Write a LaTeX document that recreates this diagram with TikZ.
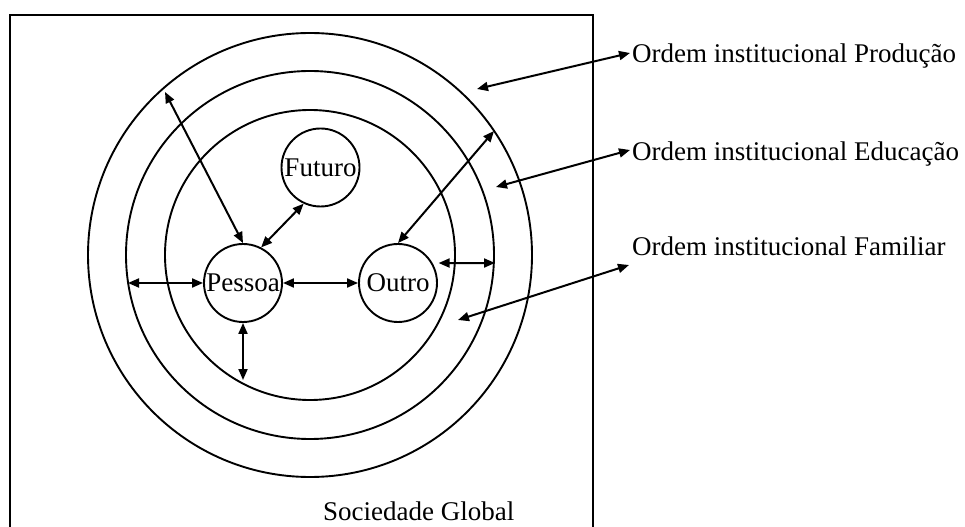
\documentclass[tikz,border=0pt]{standalone}
\usepackage{fontspec}
\setmainfont{Liberation Serif}
\usetikzlibrary{arrows.meta}
\begin{document}
\begin{tikzpicture}[x=1bp,y=-1bp,
  ring/.style={draw, line width=1.9bp},
  circnode/.style={circle, draw, line width=1.9bp, minimum size=78bp, inner sep=0pt},
  dbl/.style={{Triangle[length=11bp,width=9bp]}-{Triangle[length=11bp,width=9bp]}, line width=2bp},
  lbl/.style={anchor=base west, inner sep=0pt},
  font=\fontsize{27bp}{32bp}\selectfont]
\useasboundingbox (0,0) rectangle (965,527);
% outer box (Sociedade Global)
\draw[line width=1.9bp] (10,527) -- (10,15) -- (593,15) -- (593,527);
% concentric rings
\coordinate (C) at (310,255);
\draw[ring] (C) circle[radius=222bp];
\draw[ring] (C) circle[radius=184bp];
\draw[ring] (C) circle[radius=145bp];
% inner nodes
\node[circnode] (futuro) at (320.5,167.5) {Futuro};
\node[circnode] (pessoa) at (243,283) {Pessoa};
\node[circnode] (outro) at (398,283) {Outro};
% labels
\node[lbl] (prod) at (632,63) {Ordem institucional Produção};
\node[lbl] (educ) at (632,161) {Ordem institucional Educação};
\node[lbl] (fam) at (632,256) {Ordem institucional Familiar};
\node[lbl] (soc) at (323,520) {Sociedade Global};
% free ends
\coordinate (ringP) at (477,89);
\coordinate (ringE) at (496,187);
\coordinate (ringF) at (458,320);
\coordinate (famEnd) at (629,265);
\coordinate (outerNW) at (165,92);
\coordinate (outerNE) at (494,131);
\coordinate (midW) at (128,283);
\coordinate (midE) at (495,263);
\coordinate (innerS) at (243,380);
% connectors
\draw[dbl] ([shift={(-2bp,10bp)}]prod.base west) -- (ringP);
\draw[dbl] ([shift={(-2bp,11bp)}]educ.base west) -- (ringE);
\draw[dbl] (famEnd) -- (ringF);
\draw[dbl] (pessoa.north) -- (outerNW);
\draw[dbl] (pessoa.63) -- (futuro.245);
\draw[dbl] (outro.north) -- (outerNE);
\draw[dbl] (midW) -- (pessoa.west);
\draw[dbl] (pessoa.east) -- (outro.west);
\draw[dbl, shorten <=6bp] (outro.30) -- (midE);
\draw[dbl] (pessoa.south) -- (innerS);
\end{tikzpicture}
\end{document}
